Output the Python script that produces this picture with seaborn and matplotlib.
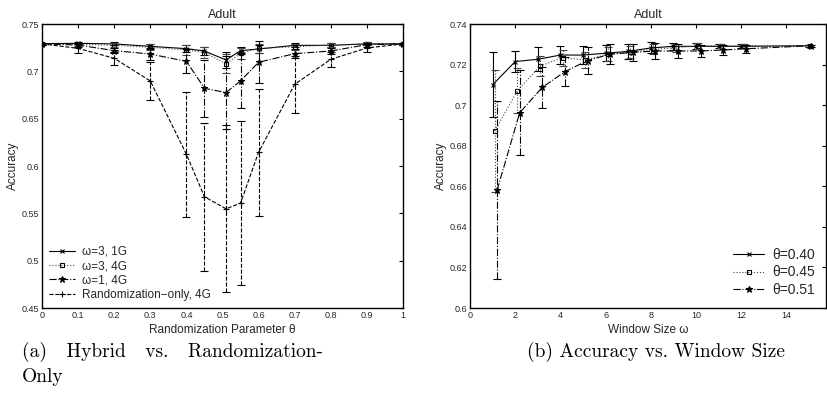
import matplotlib
matplotlib.use("Agg")
import matplotlib.pyplot as plt
import seaborn as sns
import numpy as np
import pandas as pd

# ---- panel (a): hybrid vs randomization-only ----
theta = [0, 0.1, 0.2, 0.3, 0.4, 0.45, 0.51, 0.55, 0.6, 0.7, 0.8, 0.9, 1.0]
w3_1g = [0.7293, 0.7296, 0.729, 0.7264, 0.724, 0.7215, 0.712, 0.7219, 0.7236, 0.7275, 0.7275, 0.729, 0.729]
w3_1g_err = [0.001, 0.0012, 0.0015, 0.003, 0.004, 0.0045, 0.0085, 0.004, 0.004, 0.002, 0.002, 0.0015, 0.001]
w3_4g = [0.729, 0.7285, 0.7275, 0.7254, 0.7226, 0.7198, 0.708, 0.719, 0.7243, 0.726, 0.7278, 0.729, 0.729]
w3_4g_err = [0.001, 0.0015, 0.002, 0.003, 0.005, 0.006, 0.01, 0.006, 0.005, 0.003, 0.002, 0.0015, 0.001]
w1_4g = [0.729, 0.7278, 0.7219, 0.7183, 0.7106, 0.6821, 0.6776, 0.6899, 0.7096, 0.7187, 0.7215, 0.7282, 0.729]
w1_4g_err = [0.001, 0.002, 0.003, 0.006, 0.0125, 0.03, 0.0386, 0.029, 0.022, 0.005, 0.003, 0.002, 0.001]
rand_4g = [0.729, 0.7243, 0.7138, 0.6899, 0.6125, 0.5675, 0.5548, 0.5608, 0.6146, 0.6863, 0.7127, 0.7247, 0.729]
rand_4g_err = [0.001, 0.005, 0.007, 0.02, 0.066, 0.078, 0.088, 0.087, 0.067, 0.03, 0.008, 0.004, 0.001]

# ---- panel (b): accuracy vs window size ----
win_a = [1, 2, 3, 4, 5, 6, 7, 8, 9, 10, 11, 12, 15]
acc_40 = [0.71, 0.7215, 0.7226, 0.7247, 0.7247, 0.7256, 0.7265, 0.7282, 0.729, 0.729, 0.729, 0.729, 0.7293]
acc_40_err = [0.016, 0.0053, 0.0059, 0.0045, 0.0045, 0.0039, 0.0035, 0.0027, 0.0018, 0.0015, 0.001, 0.001, 0.0005]
win_b = [1.1, 2.1, 3.1, 4.1, 5.1, 6.1, 7.1, 8.1, 9.1, 10.1, 11.1, 12.1, 15.05]
acc_45 = [0.6873, 0.7072, 0.7193, 0.7234, 0.7223, 0.7251, 0.7262, 0.7275, 0.7283, 0.7292, 0.7292, 0.7293, 0.7293]
acc_45_err = [0.03, 0.011, 0.005, 0.004, 0.004, 0.0035, 0.003, 0.0025, 0.002, 0.0015, 0.001, 0.001, 0.0005]
win_c = [1.2, 2.2, 3.2, 4.2, 5.2, 6.2, 7.2, 8.2, 9.2, 10.2, 11.2, 12.2, 15.1]
acc_51 = [0.6581, 0.6963, 0.7088, 0.7165, 0.722, 0.7251, 0.726, 0.7267, 0.7267, 0.7267, 0.7272, 0.7278, 0.7293]
acc_51_err = [0.044, 0.021, 0.01, 0.007, 0.0065, 0.005, 0.004, 0.004, 0.0035, 0.003, 0.0025, 0.002, 0.0005]

sns.set_style("white")
plt.rcParams['font.family'] = ['Liberation Sans', 'DejaVu Sans']

fig = plt.figure(figsize=(8.28, 4.12), dpi=100)
ax1 = fig.add_axes([0.0507, 0.2524, 0.436, 0.6893])
ax2 = fig.add_axes([0.5676, 0.2524, 0.43, 0.6893])


def draw(ax, x, y, err, ls, marker, label, ms, mfc, color="black"):
    df = pd.DataFrame({"x": x, "y": y})
    sns.lineplot(data=df, x="x", y="y", ax=ax, color=color, linestyle=ls, lw=0.8,
                 marker=marker, markersize=ms, markerfacecolor=mfc,
                 markeredgecolor="black", markeredgewidth=0.8, label=label,
                 errorbar=None, sort=False)
    eb = ax.errorbar(x, y, yerr=err, fmt="none", ecolor=color, elinewidth=0.8,
                     capsize=3, capthick=0.8)
    for coll in eb[2]:
        coll.set_linestyle(ls)


draw(ax1, theta, w3_1g, w3_1g_err, "-", "x", "\u03c9=3, 1G", 3, "black")
draw(ax1, theta, w3_4g, w3_4g_err, ":", "s", "\u03c9=3, 4G", 3.5, "none", "#444444")
draw(ax1, theta, w1_4g, w1_4g_err, "-.", "*", "\u03c9=1, 4G", 4.5, "black")
draw(ax1, theta, rand_4g, rand_4g_err, "--", "+", "Randomization\u2212only, 4G", 5, "black")

draw(ax2, win_a, acc_40, acc_40_err, "-", "x", "\u03b8=0.40", 3, "black")
draw(ax2, win_b, acc_45, acc_45_err, ":", "s", "\u03b8=0.45", 3.5, "none", "#444444")
draw(ax2, win_c, acc_51, acc_51_err, "-.", "*", "\u03b8=0.51", 4.5, "black")

ax1.set_xlim(0, 1)
ax1.set_ylim(0.45, 0.75)
ax1.set_xticks(np.arange(0, 1.01, 0.1))
ax1.set_xticklabels(["0", "0.1", "0.2", "0.3", "0.4", "0.5", "0.6", "0.7", "0.8", "0.9", "1"])
ax1.set_yticks(np.arange(0.45, 0.751, 0.05))
ax1.set_yticklabels(["0.45", "0.5", "0.55", "0.6", "0.65", "0.7", "0.75"])
ax1.set_xlabel("Randomization Parameter \u03b8", fontsize=8.5, labelpad=3)

ax2.set_xlim(0, 15.75)
ax2.set_ylim(0.6, 0.74)
ax2.set_xticks(np.arange(0, 15, 2))
ax2.set_yticks(np.arange(0.6, 0.741, 0.02))
ax2.set_yticklabels(["0.6", "0.62", "0.64", "0.66", "0.68", "0.7", "0.72", "0.74"])
ax2.set_xlabel("Window Size \u03c9", fontsize=8.5, labelpad=3)

for ax in (ax1, ax2):
    ax.set_title("Adult", fontsize=9, pad=4)
    ax.set_ylabel("Accuracy", fontsize=8.5, labelpad=2)
    ax.tick_params(direction="in", length=3, width=0.8, labelsize=6.5, pad=2,
                   top=True, right=True, color="black")
    for s in ax.spines.values():
        s.set_color("black")
        s.set_linewidth(1.0)

ax1.legend(loc="lower left", frameon=False, fontsize=8.5, handlelength=2.2,
           borderaxespad=0.2, labelspacing=0.2, handletextpad=0.6)
ax2.legend(loc="lower right", frameon=False, fontsize=10, handlelength=2.2,
           borderaxespad=0.4, labelspacing=0.25, handletextpad=0.6)

cap_font = dict(family="cmr10", fontsize=14, color="black")
fig.text(0.026, 0.145, "(a)   Hybrid   vs.   Randomization-", ha="left", va="center", **cap_font)
fig.text(0.026, 0.085, "Only", ha="left", va="center", **cap_font)
fig.text(0.637, 0.145, "(b) Accuracy vs. Window Size", ha="left", va="center", **cap_font)

fig.savefig("out.png", dpi=100)
